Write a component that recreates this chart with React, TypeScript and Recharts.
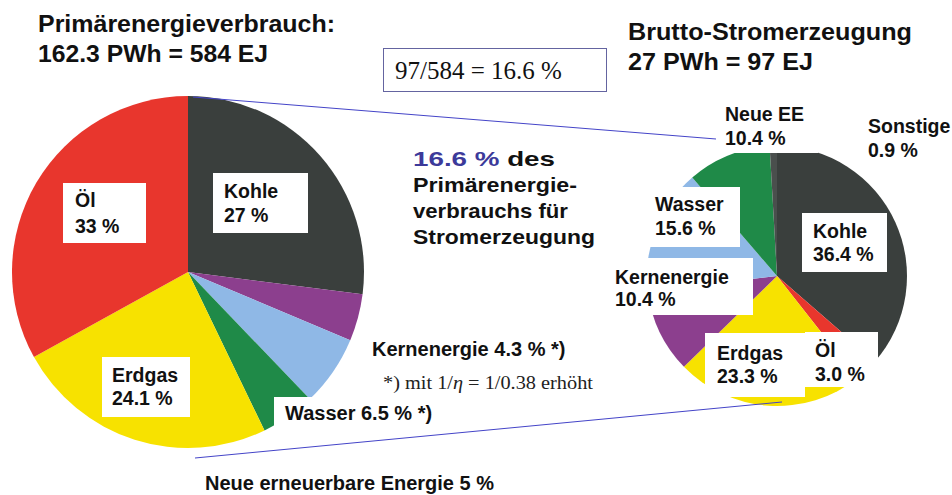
import { PieChart, Pie, Cell } from 'recharts';

// Primärenergieverbrauch (linker Kreis)
const primaryNames = ['Kohle', 'Kernenergie', 'Wasser', 'Neue erneuerbare Energie', 'Erdgas', 'Öl'];
const primaryShares = [27, 4.3, 6.5, 5, 24.1, 33];
const primaryNotes = ['', ' *)', ' *)', '', '', ''];

// Brutto-Stromerzeugung (rechter Kreis)
const powerNames = ['Kohle', 'Öl', 'Erdgas', 'Kernenergie', 'Wasser', 'Neue EE', 'Sonstige'];
const powerShares = [36.4, 3.0, 23.3, 10.4, 15.6, 10.4, 0.9];

const COLORS: Record<string, string> = {
	Kohle: '#3a3f3d',
	Kernenergie: '#8c3f8e',
	Wasser: '#8fb8e6',
	'Neue erneuerbare Energie': '#1f8a48',
	'Neue EE': '#1f8a48',
	Erdgas: '#f7e200',
	Öl: '#e8362d',
	Sonstige: '#4a4f4d',
};

const primaryData = primaryNames.map((name, i) => ({ name, value: primaryShares[i], note: primaryNotes[i] }));
const powerData = powerNames.map((name, i) => ({ name, value: powerShares[i], note: '' }));

// label boxes: box (x, y, w, h), text start, baselines; inline = one line
type LabelPos = { box?: number[]; tx: number; ty: number[]; inline?: boolean };

const primaryLabelPos: LabelPos[] = [
	{ box: [213, 173, 95, 60], tx: 224, ty: [198, 222] },
	{ tx: 372, ty: [356], inline: true },
	{ box: [274, 397, 164, 32], tx: 285, ty: [420], inline: true },
	{ tx: 205, ty: [490], inline: true },
	{ box: [102, 357, 88, 60], tx: 112, ty: [382, 405] },
	{ box: [63, 183, 83, 60], tx: 75, ty: [207, 233] },
];

const powerLabelPos: LabelPos[] = [
	{ box: [802, 213, 85, 59], tx: 813, ty: [238, 261] },
	{ box: [805, 332, 73, 55], tx: 815, ty: [357, 381] },
	{ box: [705, 333, 100, 64], tx: 717, ty: [360, 383] },
	{ box: [610, 258, 143, 57], tx: 615, ty: [284, 306] },
	{ box: [647, 187, 93, 60], tx: 655, ty: [211, 235] },
	{ box: [713, 100, 105, 53], tx: 725, ty: [121, 145] },
	{ tx: 868, ty: [133, 157] },
];

const FONT = '"Liberation Sans", Arial, sans-serif';
const SERIF = '"Liberation Serif", "Times New Roman", serif';

function makeLabel(positions: LabelPos[], fmt: (v: number) => string) {
	return (props: any) => {
		const p = positions[props.index];
		const d = props.payload ?? {};
		const name = d.name ?? props.name;
		const value = fmt(d.value ?? props.value);
		const note = d.note ?? '';
		return (
			<g>
				{p.box && <rect x={p.box[0]} y={p.box[1]} width={p.box[2]} height={p.box[3]} fill="#fff" />}
				{p.inline ? (
					<text x={p.tx} y={p.ty[0]} fontFamily={FONT} fontWeight="bold" fontSize={20} fill="#111">
						{`${name} ${value} %${note}`}
					</text>
				) : (
					<text fontFamily={FONT} fontWeight="bold" fontSize={19.5} fill="#111">
						<tspan x={p.tx} y={p.ty[0]}>{name}</tspan>
						<tspan x={p.tx} y={p.ty[1]}>{`${value} %`}</tspan>
					</text>
				)}
			</g>
		);
	};
}

export default function App() {
	return (
		<div style={{ position: 'absolute', left: 0, top: 0, width: 952, height: 495, background: '#fff' }}>
			<PieChart width={952} height={495} margin={{ top: 0, right: 0, bottom: 0, left: 0 }}>
				<Pie
					data={primaryData}
					dataKey="value"
					nameKey="name"
					cx={188}
					cy={272}
					outerRadius={176}
					startAngle={90}
					endAngle={-270}
					stroke="none"
					labelLine={false}
					label={makeLabel(primaryLabelPos, (v) => String(v))}
					isAnimationActive={false}
				>
					{primaryData.map((d) => (
						<Cell key={d.name} fill={COLORS[d.name]} />
					))}
				</Pie>
				<Pie
					data={powerData}
					dataKey="value"
					nameKey="name"
					cx={777}
					cy={276}
					outerRadius={130}
					startAngle={90}
					endAngle={-270}
					stroke="none"
					labelLine={false}
					label={makeLabel(powerLabelPos, (v) => v.toFixed(1))}
					isAnimationActive={false}
				>
					{powerData.map((d) => (
						<Cell key={d.name} fill={COLORS[d.name]} />
					))}
				</Pie>
			</PieChart>

			<svg width={952} height={495} style={{ position: 'absolute', left: 0, top: 0, pointerEvents: 'none' }}>
				{/* Verbindungslinien */}
				<line x1={193} y1={97} x2={716} y2={139} stroke="#4444c8" strokeWidth={1} />
				<line x1={195} y1={458} x2={782} y2={402} stroke="#4444c8" strokeWidth={1} />

				<g fontFamily={FONT} fontWeight="bold" fill="#111">
					<text x={38} y={32} fontSize={24} textLength={297} lengthAdjust="spacingAndGlyphs">
						Primärenergieverbrauch:
					</text>
					<text x={38} y={62} fontSize={24} textLength={230} lengthAdjust="spacingAndGlyphs">
						162.3 PWh = 584 EJ
					</text>
					<text x={628} y={40} fontSize={24} textLength={284} lengthAdjust="spacingAndGlyphs">
						Brutto-Stromerzeugung
					</text>
					<text x={628} y={70} fontSize={24} textLength={185} lengthAdjust="spacingAndGlyphs">
						27 PWh = 97 EJ
					</text>

					<text x={413} y={166} fontSize={21} textLength={142} lengthAdjust="spacingAndGlyphs">
						<tspan fill="#3c3a9a">16.6 %</tspan> des
					</text>
					<text x={413} y={192} fontSize={21} textLength={164} lengthAdjust="spacingAndGlyphs">
						Primärenergie-
					</text>
					<text x={413} y={218} fontSize={21} textLength={155} lengthAdjust="spacingAndGlyphs">
						verbrauchs für
					</text>
					<text x={413} y={244} fontSize={21} textLength={182} lengthAdjust="spacingAndGlyphs">
						Stromerzeugung
					</text>
				</g>

				<rect x={383.5} y={48.5} width={223} height={43} fill="#fff" stroke="#6464a0" strokeWidth={1} />
				<text x={395} y={79} fontFamily={SERIF} fontSize={25} fill="#111">
					97/584 = 16.6 %
				</text>

				<text x={383} y={389} fontFamily={SERIF} fontSize={19} fill="#222" textLength={210} lengthAdjust="spacingAndGlyphs">
					*) mit 1/<tspan fontStyle="italic">η</tspan> = 1/0.38 erhöht
				</text>
			</svg>
		</div>
	);
}
